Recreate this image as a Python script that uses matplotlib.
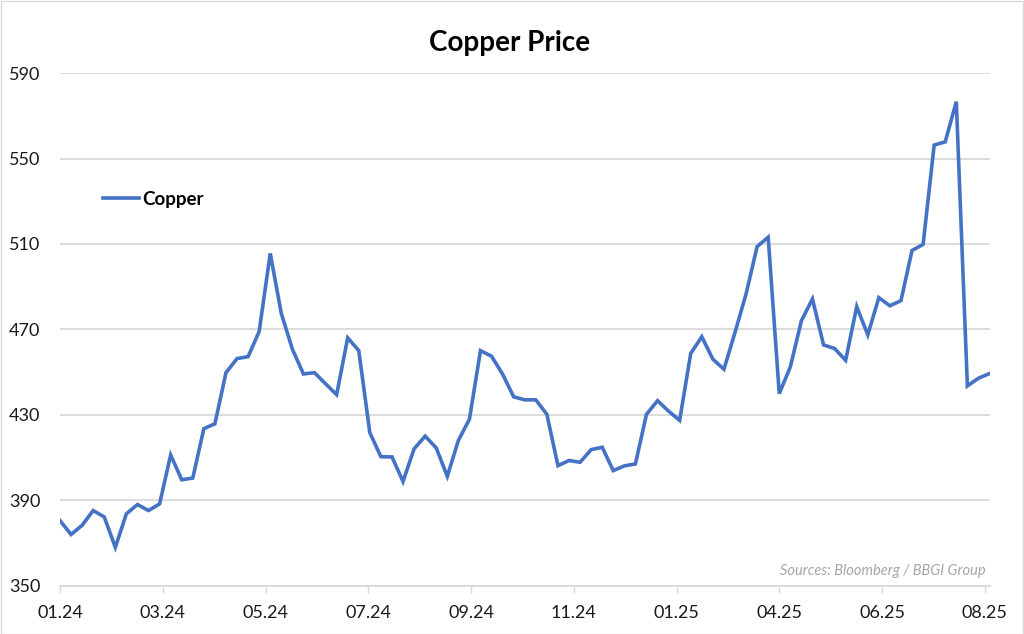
import numpy as np
import matplotlib
matplotlib.use("Agg")
import matplotlib.pyplot as plt
from matplotlib.patches import Rectangle

# ---- data (weekly copper price) ----
copper = [
    380.6, 374.1, 378.4, 385.3, 382.3, 368.1, 383.8, 388.1, 385.3, 388.4,
    411.3, 399.7, 400.5, 423.6, 425.9, 449.8, 456.4, 457.3, 469.1, 505.6,
    477.5, 460.8, 449.2, 449.8, 444.6, 439.5, 466.1, 460.1, 421.7, 410.5,
    410.4, 398.9, 414.2, 420.1, 414.6, 401.3, 418.1, 428.0, 460.1, 457.5,
    449.1, 438.5, 437.1, 437.1, 430.3, 406.3, 408.7, 407.9, 413.8, 414.9,
    404.0, 406.2, 407.1, 430.3, 436.7, 431.8, 427.5, 458.8, 466.6, 456.1,
    451.4, 468.6, 486.6, 508.8, 513.2, 440.0, 452.5, 474.1, 484.3, 462.8,
    461.1, 455.6, 480.7, 467.5, 484.9, 481.1, 483.5, 507.0, 509.8, 556.3,
    557.8, 576.6, 443.6, 447.2, 449.4,
]
tick_labels = ["01.24", "03.24", "05.24", "07.24", "09.24",
               "11.24", "01.25", "04.25", "06.25", "08.25"]
y_ticks = [350, 390, 430, 470, 510, 550, 590]
title = "Copper Price"
series_name = "Copper"
source_text = "Sources: Bloomberg / BBGI Group"

# ---- style ----
FONT = ["Lato", "DejaVu Sans"]
plt.rcParams["font.family"] = FONT
LINE_COLOR = "#4472C4"
GRID_COLOR = "#D9D9D9"
TEXT_COLOR = "#1a1a1a"

W, H = 1024, 634
fig = plt.figure(figsize=(W / 100, H / 100), dpi=100)
fig.patch.set_facecolor("white")
fig.add_artist(Rectangle((0.5 / W, 0.5 / H), 1 - 1.5 / W, 1 - 1.5 / H,
                         transform=fig.transFigure, fill=False,
                         edgecolor=GRID_COLOR, linewidth=1.0))

left, right = 60 / W, 989.5 / W
bottom, top = 1 - 586 / H, 1 - 73 / H
ax = fig.add_axes([left, bottom, right - left, top - bottom])

x = np.arange(len(copper))
ax.plot(x, copper, color=LINE_COLOR, linewidth=2.6, solid_joinstyle="miter",
        label=series_name, zorder=3)

ax.set_xlim(0, len(copper) - 1)
ax.set_ylim(min(y_ticks), max(y_ticks))
ax.set_yticks(y_ticks)
ax.set_yticklabels([str(v) for v in y_ticks])
# major unit of 65 days on weekly data
ax.set_xticks(np.arange(len(tick_labels)) * 65 / 7)
ax.set_xticklabels(tick_labels)

ax.grid(axis="y", color=GRID_COLOR, linewidth=1.3, zorder=0)
ax.set_axisbelow(True)
for s in ["top", "right", "left"]:
    ax.spines[s].set_visible(False)
ax.spines["bottom"].set_color(GRID_COLOR)
ax.spines["bottom"].set_linewidth(1.3)

ax.tick_params(axis="y", length=0, pad=14, labelsize=13, labelcolor=TEXT_COLOR)
ax.tick_params(axis="x", direction="out", length=5, width=1, color=GRID_COLOR,
               pad=9, labelsize=13, labelcolor=TEXT_COLOR)

fig.text(510 / W, 1 - 43 / H, title, ha="center", va="center",
         fontsize=20, fontweight="bold", color="black")

leg = ax.legend(loc="center left", bbox_to_anchor=((103 - 60) / 929.5, (586 - 199) / 513),
                frameon=False, handlelength=1.9, handletextpad=0.2,
                borderaxespad=0, borderpad=0,
                prop={"size": 13.5, "weight": "bold", "family": FONT})
for t in leg.get_texts():
    t.set_color("black")

fig.text(986 / W, 1 - 571 / H, source_text, ha="right", va="center",
         fontsize=10.5, style="italic", color="#A6A6A6")

fig.savefig("out.png", dpi=100, facecolor="white")
